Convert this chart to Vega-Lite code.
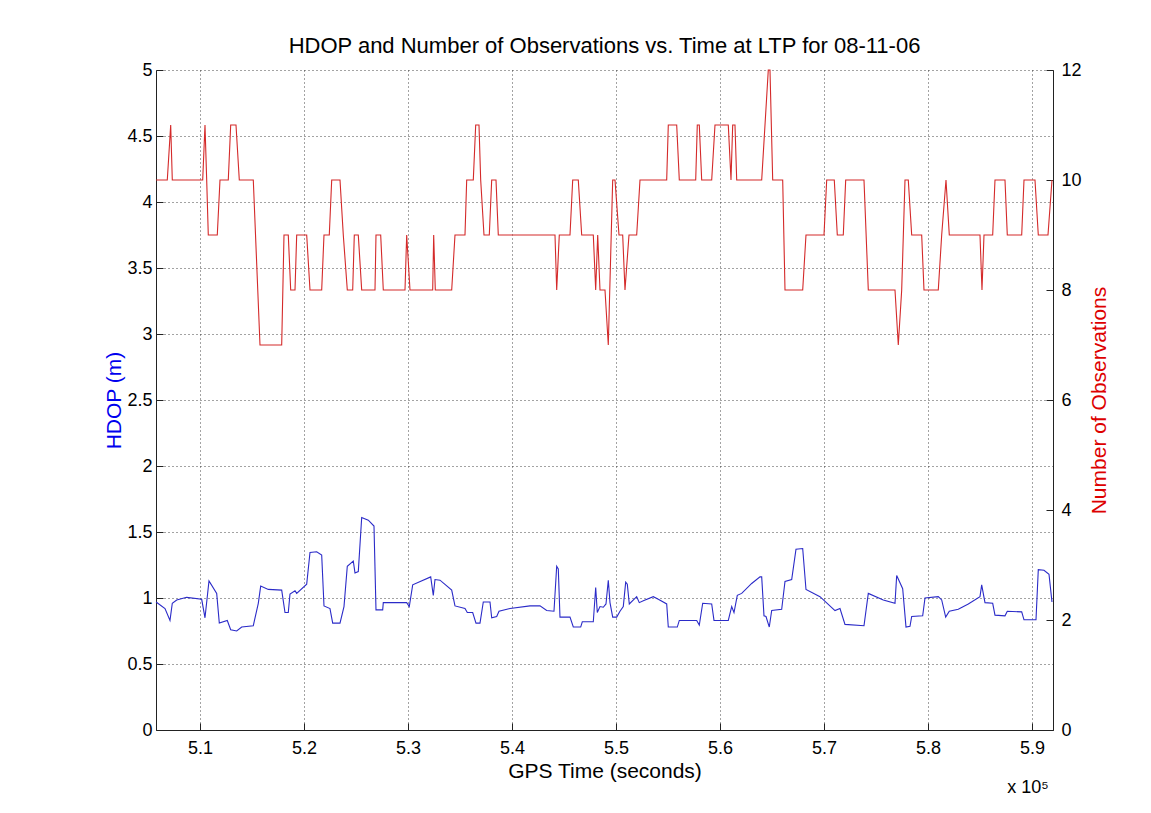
{
  "$schema": "https://vega.github.io/schema/vega-lite/v6.json",
  "width": 897,
  "height": 660,
  "autosize": {"type": "none"},
  "padding": {"left": 156, "top": 70, "right": 98, "bottom": 83},
  "background": "white",
  "title": {"text": "HDOP and Number of Observations vs. Time at LTP for 08-11-06", "font": "Liberation Sans", "fontSize": 22, "fontWeight": "normal", "color": "#000000", "anchor": "middle", "offset": 3},
  "config": {
    "view": {"stroke": null},
    "axis": {
      "domainColor": "#222222",
      "tickColor": "#222222",
      "labelFont": "Liberation Sans",
      "labelFontSize": 18,
      "labelColor": "#000000",
      "titleFont": "Liberation Sans",
      "titleFontSize": 21,
      "titleFontWeight": "normal",
      "gridColor": "#333333",
      "gridDash": [1, 3],
      "gridOpacity": 0.9,
      "tickSize": -7,
      "labelPadding": 16
    }
  },
  "datasets": {
    "hdop": [
      {"t":505780,"v":0.97},{"t":506635,"v":0.92},{"t":507115,"v":0.83},{"t":507337,"v":0.96},{"t":507760,"v":0.985},{"t":508721,"v":1.005},{"t":510163,"v":0.99},{"t":510481,"v":0.85},{"t":510865,"v":1.13},{"t":511606,"v":1.035},{"t":511856,"v":0.81},{"t":512625,"v":0.83},{"t":512952,"v":0.76},{"t":513529,"v":0.75},{"t":514010,"v":0.78},{"t":515125,"v":0.79},{"t":515606,"v":0.96},{"t":515837,"v":1.09},{"t":516567,"v":1.065},{"t":517856,"v":1.06},{"t":518173,"v":0.89},{"t":518490,"v":0.89},{"t":518654,"v":1.03},{"t":519135,"v":1.055},{"t":519298,"v":1.035},{"t":520260,"v":1.105},{"t":520577,"v":1.345},{"t":521221,"v":1.35},{"t":521702,"v":1.325},{"t":521923,"v":0.94},{"t":522500,"v":0.92},{"t":522760,"v":0.81},{"t":523462,"v":0.81},{"t":523846,"v":0.935},{"t":524164,"v":1.24},{"t":524740,"v":1.28},{"t":524904,"v":1.19},{"t":525221,"v":1.2},{"t":525548,"v":1.61},{"t":526183,"v":1.59},{"t":526731,"v":1.545},{"t":526923,"v":0.91},{"t":527567,"v":0.91},{"t":527625,"v":0.965},{"t":529875,"v":0.965},{"t":530125,"v":0.935},{"t":530452,"v":1.1},{"t":532183,"v":1.16},{"t":532433,"v":1.02},{"t":532596,"v":1.14},{"t":533077,"v":1.135},{"t":534202,"v":1.06},{"t":534519,"v":0.94},{"t":535481,"v":0.92},{"t":535702,"v":0.89},{"t":536221,"v":0.89},{"t":536538,"v":0.81},{"t":536923,"v":0.81},{"t":537240,"v":0.97},{"t":537885,"v":0.97},{"t":538048,"v":0.85},{"t":538529,"v":0.86},{"t":538750,"v":0.9},{"t":539808,"v":0.92},{"t":541731,"v":0.94},{"t":542692,"v":0.94},{"t":543337,"v":0.905},{"t":544038,"v":0.9},{"t":544298,"v":1.24},{"t":544452,"v":1.22},{"t":544615,"v":0.855},{"t":545577,"v":0.855},{"t":545894,"v":0.78},{"t":546606,"v":0.78},{"t":546760,"v":0.82},{"t":547818,"v":0.82},{"t":548048,"v":1.08},{"t":548202,"v":0.89},{"t":548462,"v":0.935},{"t":548779,"v":0.93},{"t":549038,"v":0.955},{"t":549260,"v":1.135},{"t":549423,"v":0.965},{"t":549683,"v":0.855},{"t":550067,"v":0.855},{"t":550385,"v":0.9},{"t":550702,"v":0.935},{"t":550933,"v":1.12},{"t":551087,"v":1.105},{"t":551279,"v":0.955},{"t":551990,"v":1.01},{"t":552240,"v":0.965},{"t":552625,"v":0.98},{"t":553587,"v":1.01},{"t":554067,"v":0.99},{"t":554875,"v":0.955},{"t":555029,"v":0.78},{"t":555894,"v":0.78},{"t":556087,"v":0.83},{"t":557760,"v":0.83},{"t":558010,"v":0.795},{"t":558337,"v":0.96},{"t":559202,"v":0.955},{"t":559423,"v":0.83},{"t":560798,"v":0.83},{"t":561125,"v":0.935},{"t":561346,"v":0.89},{"t":561664,"v":1.02},{"t":562087,"v":1.035},{"t":563048,"v":1.11},{"t":563846,"v":1.16},{"t":564010,"v":1.16},{"t":564231,"v":0.865},{"t":564423,"v":0.86},{"t":564740,"v":0.78},{"t":564971,"v":0.905},{"t":565933,"v":0.915},{"t":566250,"v":1.125},{"t":566894,"v":1.14},{"t":567308,"v":1.37},{"t":567952,"v":1.375},{"t":568269,"v":1.065},{"t":569615,"v":1.01},{"t":571058,"v":0.905},{"t":571538,"v":0.92},{"t":572019,"v":0.8},{"t":573846,"v":0.79},{"t":574260,"v":1.035},{"t":575702,"v":0.985},{"t":576827,"v":0.96},{"t":576990,"v":1.17},{"t":577567,"v":1.07},{"t":577885,"v":0.78},{"t":578269,"v":0.785},{"t":578433,"v":0.86},{"t":579490,"v":0.865},{"t":579712,"v":1.0},{"t":580990,"v":1.01},{"t":581317,"v":0.985},{"t":581702,"v":0.855},{"t":582048,"v":0.9},{"t":582913,"v":0.915},{"t":583875,"v":0.955},{"t":585000,"v":1.01},{"t":585163,"v":1.1},{"t":585481,"v":0.965},{"t":586221,"v":0.96},{"t":586442,"v":0.87},{"t":587404,"v":0.865},{"t":587625,"v":0.9},{"t":589010,"v":0.895},{"t":589231,"v":0.835},{"t":590385,"v":0.835},{"t":590606,"v":1.215},{"t":591154,"v":1.21},{"t":591635,"v":1.18},{"t":591923,"v":0.97}
    ],
    "obs": [
      {"t":505780,"v":10},{"t":506856,"v":10},{"t":507183,"v":11},{"t":507337,"v":10},{"t":510260,"v":10},{"t":510481,"v":11},{"t":510644,"v":10},{"t":510798,"v":9},{"t":511663,"v":9},{"t":511923,"v":10},{"t":512721,"v":10},{"t":512952,"v":11},{"t":513462,"v":11},{"t":513779,"v":10},{"t":515125,"v":10},{"t":515769,"v":7},{"t":517856,"v":7},{"t":518077,"v":9},{"t":518490,"v":9},{"t":518721,"v":8},{"t":519135,"v":8},{"t":519298,"v":9},{"t":520260,"v":9},{"t":520577,"v":8},{"t":521702,"v":8},{"t":521923,"v":9},{"t":522433,"v":9},{"t":522664,"v":10},{"t":523462,"v":10},{"t":523779,"v":9},{"t":524164,"v":8},{"t":524683,"v":8},{"t":524837,"v":9},{"t":525221,"v":9},{"t":525548,"v":8},{"t":526827,"v":8},{"t":526923,"v":9},{"t":527375,"v":9},{"t":527625,"v":8},{"t":529712,"v":8},{"t":529875,"v":9},{"t":530192,"v":8},{"t":532375,"v":8},{"t":532471,"v":9},{"t":532625,"v":8},{"t":534202,"v":8},{"t":534519,"v":9},{"t":535481,"v":9},{"t":535644,"v":10},{"t":536279,"v":10},{"t":536510,"v":11},{"t":536827,"v":11},{"t":536990,"v":10},{"t":537308,"v":9},{"t":537818,"v":9},{"t":538048,"v":10},{"t":538462,"v":10},{"t":538683,"v":9},{"t":544135,"v":9},{"t":544298,"v":8},{"t":544548,"v":9},{"t":545577,"v":9},{"t":545837,"v":10},{"t":546375,"v":10},{"t":546702,"v":9},{"t":547818,"v":9},{"t":548048,"v":8},{"t":548241,"v":9},{"t":548462,"v":8},{"t":548942,"v":8},{"t":549260,"v":7},{"t":549683,"v":10},{"t":549904,"v":10},{"t":550289,"v":9},{"t":550644,"v":9},{"t":550865,"v":8},{"t":551250,"v":9},{"t":551990,"v":9},{"t":552308,"v":10},{"t":554875,"v":10},{"t":555029,"v":11},{"t":555837,"v":11},{"t":556087,"v":10},{"t":557664,"v":10},{"t":557817,"v":11},{"t":558010,"v":11},{"t":558240,"v":10},{"t":559202,"v":10},{"t":559519,"v":11},{"t":560798,"v":11},{"t":561058,"v":10},{"t":561221,"v":11},{"t":561442,"v":11},{"t":561606,"v":10},{"t":564010,"v":10},{"t":564327,"v":11},{"t":564644,"v":12},{"t":564807,"v":12},{"t":565067,"v":10},{"t":566029,"v":10},{"t":566250,"v":8},{"t":567952,"v":8},{"t":568269,"v":9},{"t":570000,"v":9},{"t":570260,"v":10},{"t":570990,"v":10},{"t":571279,"v":9},{"t":571856,"v":9},{"t":572087,"v":10},{"t":573846,"v":10},{"t":574260,"v":8},{"t":576827,"v":8},{"t":577144,"v":7},{"t":577471,"v":8},{"t":577789,"v":10},{"t":578106,"v":10},{"t":578433,"v":9},{"t":579394,"v":9},{"t":579615,"v":8},{"t":580990,"v":8},{"t":581317,"v":9},{"t":581731,"v":10},{"t":582048,"v":9},{"t":585000,"v":9},{"t":585192,"v":8},{"t":585385,"v":9},{"t":586221,"v":9},{"t":586442,"v":10},{"t":587404,"v":10},{"t":587625,"v":9},{"t":589010,"v":9},{"t":589231,"v":10},{"t":590288,"v":10},{"t":590606,"v":9},{"t":591538,"v":9},{"t":591923,"v":10}
    ],
    "note": [{"label": "x 10⁵", "t": 590000, "v": 0}]
  },
  "layer": [
    {
      "layer": [
        {
          "data": {"name": "hdop"},
          "mark": {"type": "line", "color": "#2b2bc8", "strokeWidth": 1.1, "interpolate": "linear"},
          "encoding": {
            "x": {
              "field": "t", "type": "quantitative",
              "scale": {"domain": [505770, 592020], "nice": false, "zero": false},
              "axis": {
                "title": "GPS Time (seconds)",
                "values": [510000, 520000, 530000, 540000, 550000, 560000, 570000, 580000, 590000],
                "labelExpr": "format(datum.value / 100000, '.1f')",
                "grid": true,
                "titlePadding": 3
              }
            },
            "y": {
              "field": "v", "type": "quantitative",
              "scale": {"domain": [0, 5], "nice": false, "zero": true},
              "axis": {
                "title": "HDOP (m)",
                "titleColor": "#0000ee",
                "values": [0, 0.5, 1, 1.5, 2, 2.5, 3, 3.5, 4, 4.5, 5],
                "format": "~g",
                "grid": true,
                "labelPadding": 11,
                "titlePadding": 2
              }
            }
          }
        },
        {
          "data": {"name": "note"},
          "mark": {"type": "text", "font": "Liberation Sans", "fontSize": 18, "align": "center", "baseline": "middle", "dy": 58, "dx": -4, "color": "#000000"},
          "encoding": {
            "x": {"field": "t", "type": "quantitative"},
            "y": {"field": "v", "type": "quantitative"},
            "text": {"field": "label"}
          }
        }
      ]
    },
    {
      "data": {"name": "obs"},
      "mark": {"type": "line", "color": "#d42a2a", "strokeWidth": 1.1, "interpolate": "linear"},
      "encoding": {
        "x": {"field": "t", "type": "quantitative"},
        "y": {
          "field": "v", "type": "quantitative",
          "scale": {"domain": [0, 12], "nice": false, "zero": true},
          "axis": {
            "orient": "right",
            "title": "Number of Observations",
            "titleColor": "#dd0000",
            "titleAngle": 270,
            "values": [0, 2, 4, 6, 8, 10, 12],
            "grid": false,
            "labelPadding": 15,
            "titlePadding": 28
          }
        }
      }
    }
  ],
  "resolve": {"scale": {"y": "independent"}}
}
